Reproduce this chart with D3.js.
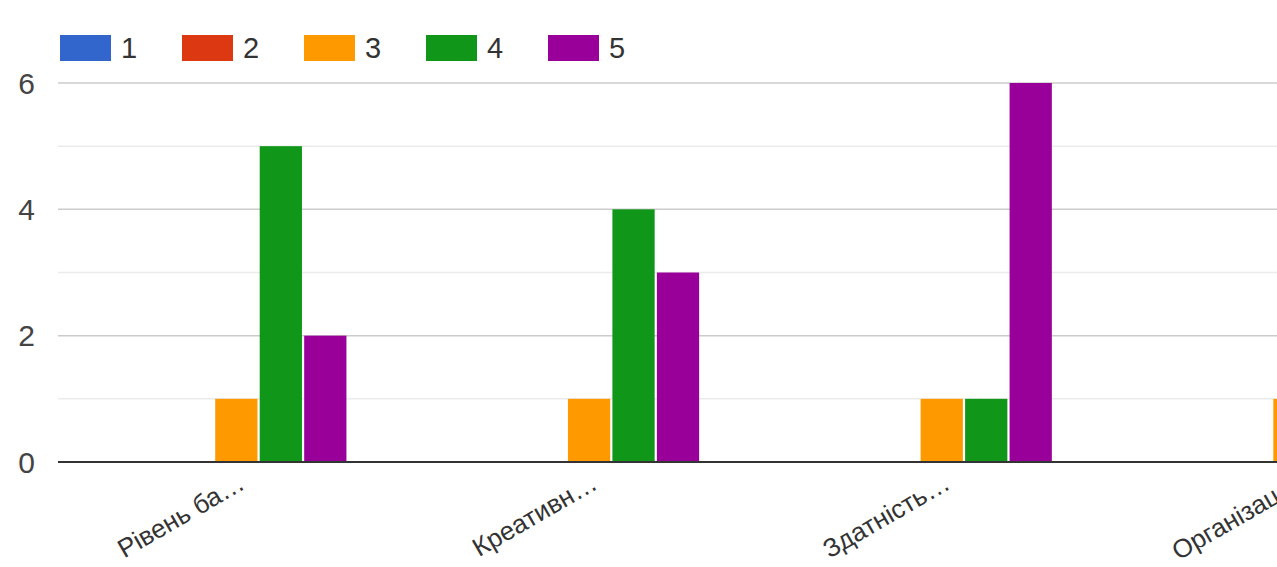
<!DOCTYPE html>
<html>
<head>
<meta charset="utf-8">
<script src="https://cdn.jsdelivr.net/npm/d3@7"></script>
<style>
  body { margin: 0; background: #fff; }
  svg { display: block; font-family: "Liberation Sans", Arial, sans-serif; }
</style>
</head>
<body>
<script>
// categories (truncated as in the chart) and ratings
var categories = ["Рівень ба…", "Креативн…", "Здатність…", "Організац…"];
var ratings = ["1", "2", "3", "4", "5"];
// counts per rating, one value per category
var r1 = [0, 0, 0, 0];
var r2 = [0, 0, 0, 0];
var r3 = [1, 1, 1, 1];
var r4 = [5, 4, 1, 3];
var r5 = [2, 3, 6, 4];
var yTicks = [0, 2, 4, 6];
var colors = ["#3366cc", "#dc3912", "#ff9900", "#109618", "#990099"];

var series = [r1, r2, r3, r4, r5];
var width = 1277, height = 567;
var left = 60, bandW = 352.7;
var top0 = 83, base = 462;

var svg = d3.select("body").append("svg")
    .attr("width", width)
    .attr("height", height);

var x = d3.scaleBand()
    .domain(categories)
    .range([left, left + bandW * categories.length])
    .paddingInner(0)
    .paddingOuter(0);

var xInner = d3.scaleBand()
    .domain(ratings)
    .range([0, bandW])
    .paddingOuter(66 / 44.3)
    .paddingInner(0.05);

var y = d3.scaleLinear()
    .domain([0, 6])
    .range([base, top0]);

// gridlines: minor then major
svg.append("g").selectAll("line")
    .data(d3.range(1, 7))
    .enter().append("line")
    .attr("x1", left - 2)
    .attr("x2", width)
    .attr("y1", (d) => y(d))
    .attr("y2", (d) => y(d))
    .attr("stroke", (d) => d % 2 === 0 ? "#cccccc" : "#ebebeb")
    .attr("stroke-width", 1.5);

// bars
var groups = svg.append("g").selectAll("g")
    .data(categories)
    .enter().append("g")
    .attr("transform", (d) => "translate(" + x(d) + ",0)");

groups.selectAll("rect")
    .data((d, i) => series.map((s, k) => ({ key: ratings[k], value: s[i], color: colors[k] })))
    .enter().append("rect")
    .filter((d) => d.value > 0)
    .attr("x", (d) => xInner(d.key))
    .attr("y", (d) => y(d.value))
    .attr("width", xInner.bandwidth())
    .attr("height", (d) => base - y(d.value))
    .attr("fill", (d) => d.color);

// baseline
svg.append("line")
    .attr("x1", left - 2)
    .attr("x2", width)
    .attr("y1", base)
    .attr("y2", base)
    .attr("stroke", "#333")
    .attr("stroke-width", 2);

// y axis labels
svg.append("g").selectAll("text")
    .data(yTicks)
    .enter().append("text")
    .attr("x", 35)
    .attr("y", (d) => y(d) + 10.5)
    .attr("text-anchor", "end")
    .attr("font-size", "30px")
    .attr("fill", "#444")
    .text((d) => d3.format("d")(d));

// x labels
svg.append("g").selectAll("text")
    .data(categories)
    .enter().append("text")
    .attr("transform", (d) => "translate(" + (x(d) + bandW / 2 + 10) + ",488) rotate(-30)")
    .attr("text-anchor", "end")
    .attr("font-size", "26px")
    .attr("fill", "#333")
    .text((d) => d);

// legend
var legend = svg.append("g").selectAll("g")
    .data(ratings)
    .enter().append("g")
    .attr("transform", (d, i) => "translate(" + (60 + i * 122) + ",35)");
legend.append("rect")
    .attr("width", 51)
    .attr("height", 26)
    .attr("fill", (d, i) => colors[i]);
legend.append("text")
    .attr("x", 61)
    .attr("y", 23)
    .attr("font-size", "29px")
    .attr("fill", "#333")
    .text((d) => d);
</script>
</body>
</html>
